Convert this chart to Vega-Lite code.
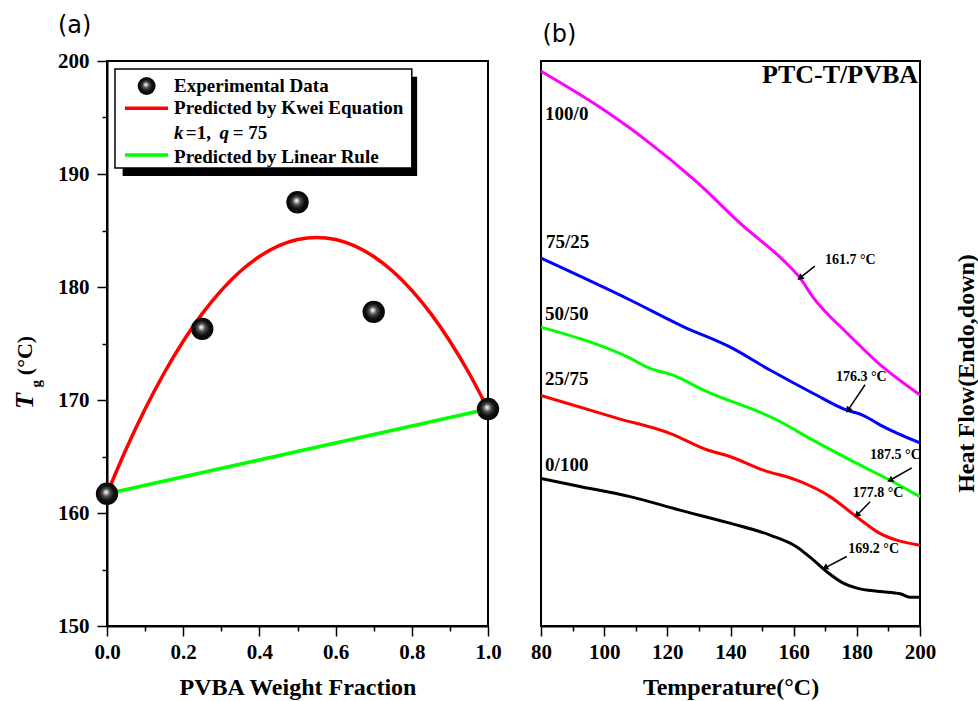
{
  "$schema": "https://vega.github.io/schema/vega-lite/v6.json",
  "background": "white",
  "padding": {"left": 11, "top": 13, "right": 0, "bottom": 0},
  "config": {
    "font": "Liberation Serif",
    "view": {"stroke": "black", "strokeWidth": 2},
    "axis": {
      "grid": false,
      "labelFlush": false,
      "domainColor": "black",
      "domainWidth": 2,
      "tickColor": "black",
      "tickWidth": 1.5,
      "labelColor": "black",
      "labelFont": "Liberation Serif",
      "labelFontWeight": "bold",
      "labelFontSize": 21,
      "labelPadding": 5,
      "titleColor": "black",
      "titleFont": "Liberation Serif",
      "titleFontWeight": "bold",
      "titleFontSize": 24
    },
    "title": {"font": "DejaVu Sans", "fontSize": 24, "fontWeight": "normal", "color": "black", "anchor": "start", "frame": "group"}
  },
  "resolve": {"scale": {"x": "independent", "y": "independent", "color": "independent"}},
  "spacing": 26,
  "hconcat": [
    {
      "width": 381,
      "height": 565,
      "title": {"text": "(a)", "dx": -49, "offset": 12},
      "encoding": {
        "x": {
          "field": "x", "type": "quantitative",
          "scale": {"domain": [0, 1], "nice": false, "zero": false},
          "axis": {
            "title": "PVBA Weight Fraction",
            "values": [0, 0.1, 0.2, 0.3, 0.4, 0.5, 0.6, 0.7, 0.8, 0.9, 1.0],
            "format": ".1f",
            "labelExpr": "round(datum.value * 10) % 2 === 0 ? datum.label : ''",
            "tickSize": {"condition": {"test": "round(datum.value * 10) % 2 === 0", "value": 10}, "value": 5},
            "titlePadding": 13
          }
        },
        "y": {
          "field": "y", "type": "quantitative",
          "scale": {"domain": [150, 200], "nice": false, "zero": false},
          "axis": {
            "title": null,
            "values": [150, 155, 160, 165, 170, 175, 180, 185, 190, 195, 200],
            "labelExpr": "datum.value % 10 === 0 ? datum.label : ''",
            "labelPadding": 8,
            "tickSize": {"condition": {"test": "datum.value % 10 === 0", "value": 10}, "value": 5}
          }
        }
      },
      "layer": [
        {"data": {"name": "linearRule"}, "mark": {"type": "line", "color": "#00ff00", "strokeWidth": 3.5}},
        {"data": {"name": "kwei"}, "mark": {"type": "line", "color": "#ff0000", "strokeWidth": 3.5, "interpolate": "monotone"}},
        {
          "data": {"name": "experiment"},
          "mark": {
            "type": "point", "filled": true, "opacity": 1, "size": 500, "strokeWidth": 0,
            "fill": {"gradient": "radial", "x1": 0.45, "y1": 0.42, "r1": 0, "x2": 0.5, "y2": 0.5, "r2": 0.55,
              "stops": [{"offset": 0, "color": "#ffffff"}, {"offset": 0.12, "color": "#cfcfcf"}, {"offset": 0.3, "color": "#555555"}, {"offset": 0.6, "color": "#111111"}, {"offset": 1, "color": "#000000"}]}
          }
        },
        {"data": {"name": "legendShadow"}, "mark": {"type": "rect", "color": "black", "opacity": 1}, "encoding": {"x2": {"field": "x2"}, "y2": {"field": "y2"}}},
        {"data": {"name": "legendBox"}, "mark": {"type": "rect", "fill": "white", "stroke": "black", "strokeWidth": 1.5, "opacity": 1}, "encoding": {"x2": {"field": "x2"}, "y2": {"field": "y2"}}},
        {
          "data": {"name": "legendBall"},
          "mark": {
            "type": "point", "filled": true, "opacity": 1, "size": 320, "strokeWidth": 0,
            "fill": {"gradient": "radial", "x1": 0.45, "y1": 0.42, "r1": 0, "x2": 0.5, "y2": 0.5, "r2": 0.55,
              "stops": [{"offset": 0, "color": "#ffffff"}, {"offset": 0.12, "color": "#cfcfcf"}, {"offset": 0.3, "color": "#555555"}, {"offset": 0.6, "color": "#111111"}, {"offset": 1, "color": "#000000"}]}
          }
        },
        {
          "data": {"name": "legendKeys"},
          "mark": {"type": "rule", "strokeWidth": 3.5},
          "encoding": {
            "x2": {"field": "x2"},
            "color": {"field": "series", "type": "nominal", "scale": {"domain": ["Kwei", "Linear"], "range": ["#ff0000", "#00ff00"]}, "legend": null}
          }
        },
        {
          "data": {"name": "legendText"},
          "mark": {"type": "text", "align": "left", "baseline": "middle", "font": "Liberation Serif", "fontWeight": "bold", "fontSize": 19, "color": "black"},
          "encoding": {"text": {"field": "label"}}
        },
        {
          "data": {"name": "legendItalic"},
          "mark": {"type": "text", "align": "left", "baseline": "middle", "font": "Liberation Serif", "fontWeight": "bold", "fontStyle": "italic", "fontSize": 19, "color": "black"},
          "encoding": {"text": {"field": "label"}}
        },
        {
          "data": {"name": "titleT"},
          "mark": {"type": "text", "align": "left", "baseline": "alphabetic", "angle": 270, "font": "Liberation Serif", "fontWeight": "bold", "fontStyle": "italic", "fontSize": 26, "color": "black"},
          "encoding": {"text": {"field": "label"}}
        },
        {
          "data": {"name": "titleSub"},
          "mark": {"type": "text", "align": "left", "baseline": "alphabetic", "angle": 270, "font": "Liberation Serif", "fontWeight": "bold", "fontSize": 15, "color": "black"},
          "encoding": {"text": {"field": "label"}}
        },
        {
          "data": {"name": "titleUnit"},
          "mark": {"type": "text", "align": "left", "baseline": "alphabetic", "angle": 270, "font": "Liberation Serif", "fontWeight": "bold", "fontSize": 22, "color": "black"},
          "encoding": {"text": {"field": "label"}}
        }
      ]
    },
    {
      "width": 379,
      "height": 565,
      "title": {"text": "(b)", "dx": 1.5, "offset": 14},
      "encoding": {
        "x": {
          "field": "t", "type": "quantitative",
          "scale": {"domain": [80, 200], "nice": false, "zero": false},
          "axis": {
            "title": "Temperature(°C)",
            "values": [80, 90, 100, 110, 120, 130, 140, 150, 160, 170, 180, 190, 200],
            "labelExpr": "datum.value % 20 === 0 ? datum.label : ''",
            "tickSize": {"condition": {"test": "datum.value % 20 === 0", "value": 10}, "value": 5},
            "titlePadding": 13
          }
        },
        "y": {
          "field": "v", "type": "quantitative",
          "scale": {"domain": [0, 100], "nice": false, "zero": false},
          "axis": {
            "orient": "right",
            "title": "Heat Flow(Endo,down)",
            "labels": false, "ticks": false, "domain": false,
            "titleAngle": 270, "titleAlign": "center", "titleBaseline": "alphabetic",
            "titleX": 53, "titleY": 312
          }
        }
      },
      "layer": [
        {
          "data": {"name": "dsc"},
          "mark": {"type": "line", "strokeWidth": 3, "interpolate": "monotone"},
          "encoding": {
            "color": {"field": "blend", "type": "nominal",
              "scale": {"domain": ["100/0", "75/25", "50/50", "25/75", "0/100"], "range": ["#ff00ff", "#0000ff", "#00ff00", "#ff0000", "#000000"]},
              "legend": null}
          }
        },
        {
          "data": {"name": "arrows"},
          "mark": {"type": "rule", "color": "black", "strokeWidth": 1.5},
          "encoding": {"x2": {"field": "t2"}, "y2": {"field": "v2"}}
        },
        {
          "data": {"name": "arrows"},
          "mark": {"type": "point", "shape": "triangle-up", "filled": true, "color": "black", "opacity": 1, "size": 50},
          "encoding": {
            "x": {"field": "t2", "type": "quantitative"},
            "y": {"field": "v2", "type": "quantitative"},
            "angle": {"field": "dir", "type": "quantitative", "scale": null}
          }
        },
        {
          "data": {"name": "tgLabels"},
          "mark": {"type": "text", "align": "left", "baseline": "middle", "font": "Liberation Serif", "fontWeight": "bold", "fontSize": 14, "color": "black"},
          "encoding": {"text": {"field": "label"}}
        },
        {
          "data": {"name": "blendLabels"},
          "mark": {"type": "text", "align": "left", "baseline": "middle", "font": "Liberation Serif", "fontWeight": "bold", "fontSize": 19, "color": "black"},
          "encoding": {"text": {"field": "label"}}
        },
        {
          "data": {"name": "systemLabel"},
          "mark": {"type": "text", "align": "right", "baseline": "middle", "font": "Liberation Serif", "fontWeight": "bold", "fontSize": 26, "color": "black"},
          "encoding": {"text": {"field": "label"}}
        }
      ]
    }
  ],
  "datasets": {
    "experiment": [
      {"x": 0, "y": 161.7},
      {"x": 0.25, "y": 176.3},
      {"x": 0.5, "y": 187.5},
      {"x": 0.7, "y": 177.8},
      {"x": 1.0, "y": 169.2}
    ],
    "kwei": [
      {"x": 0.0, "y": 161.7},
      {"x": 0.05, "y": 165.64},
      {"x": 0.1, "y": 169.2},
      {"x": 0.15, "y": 172.39},
      {"x": 0.2, "y": 175.2},
      {"x": 0.25, "y": 177.64},
      {"x": 0.3, "y": 179.7},
      {"x": 0.35, "y": 181.39},
      {"x": 0.4, "y": 182.7},
      {"x": 0.45, "y": 183.64},
      {"x": 0.5, "y": 184.2},
      {"x": 0.55, "y": 184.39},
      {"x": 0.6, "y": 184.2},
      {"x": 0.65, "y": 183.64},
      {"x": 0.7, "y": 182.7},
      {"x": 0.75, "y": 181.39},
      {"x": 0.8, "y": 179.7},
      {"x": 0.85, "y": 177.64},
      {"x": 0.9, "y": 175.2},
      {"x": 0.95, "y": 172.39},
      {"x": 1.0, "y": 169.2}
    ],
    "linearRule": [
      {"x": 0, "y": 161.7},
      {"x": 1, "y": 169.2}
    ],
    "legendShadow": [{"x": 0.041, "x2": 0.814, "y": 198.61, "y2": 189.82}],
    "legendBox": [{"x": 0.021, "x2": 0.8, "y": 199.29, "y2": 190.53}],
    "legendBall": [{"x": 0.104, "y": 197.79}],
    "legendKeys": [
      {"series": "Kwei", "x": 0.047, "x2": 0.16, "y": 195.81},
      {"series": "Linear", "x": 0.047, "x2": 0.16, "y": 191.68}
    ],
    "legendText": [
      {"label": "Experimental Data", "x": 0.176, "y": 197.81},
      {"label": "Predicted by Kwei Equation", "x": 0.176, "y": 195.81},
      {"label": "=1,", "x": 0.207, "y": 193.6},
      {"label": "= 75", "x": 0.33, "y": 193.6},
      {"label": "Predicted by Linear Rule", "x": 0.176, "y": 191.53}
    ],
    "legendItalic": [
      {"label": "k", "x": 0.176, "y": 193.6},
      {"label": "q", "x": 0.295, "y": 193.6}
    ],
    "titleT": [{"label": "T", "x": -0.194, "y": 169.2}],
    "titleSub": [{"label": "g", "x": -0.173, "y": 171.1}],
    "titleUnit": [{"label": "(°C)", "x": -0.197, "y": 172.2}],
    "dsc": [
      {"blend": "100/0", "t": 80, "v": 98.2},
      {"blend": "100/0", "t": 97.6, "v": 92.2},
      {"blend": "100/0", "t": 112.3, "v": 86.4},
      {"blend": "100/0", "t": 129.3, "v": 78.6},
      {"blend": "100/0", "t": 144.0, "v": 70.8},
      {"blend": "100/0", "t": 156.6, "v": 64.8},
      {"blend": "100/0", "t": 162.0, "v": 61.6},
      {"blend": "100/0", "t": 166.1, "v": 58.2},
      {"blend": "100/0", "t": 176.8, "v": 51.9},
      {"blend": "100/0", "t": 188.3, "v": 45.8},
      {"blend": "100/0", "t": 200, "v": 40.9},
      {"blend": "75/25", "t": 80, "v": 65.1},
      {"blend": "75/25", "t": 108.2, "v": 57.7},
      {"blend": "75/25", "t": 125.0, "v": 53.0},
      {"blend": "75/25", "t": 139.8, "v": 49.4},
      {"blend": "75/25", "t": 152.5, "v": 45.3},
      {"blend": "75/25", "t": 166.1, "v": 41.2},
      {"blend": "75/25", "t": 176.8, "v": 38.2},
      {"blend": "75/25", "t": 182.0, "v": 37.3},
      {"blend": "75/25", "t": 187.3, "v": 35.6},
      {"blend": "75/25", "t": 200, "v": 32.4},
      {"blend": "50/50", "t": 80, "v": 52.9},
      {"blend": "50/50", "t": 108.2, "v": 47.4},
      {"blend": "50/50", "t": 114.5, "v": 45.6},
      {"blend": "50/50", "t": 121.8, "v": 44.4},
      {"blend": "50/50", "t": 131.3, "v": 41.8},
      {"blend": "50/50", "t": 154.6, "v": 36.5},
      {"blend": "50/50", "t": 166.1, "v": 32.9},
      {"blend": "50/50", "t": 182.0, "v": 28.2},
      {"blend": "50/50", "t": 190.5, "v": 25.8},
      {"blend": "50/50", "t": 200, "v": 22.9},
      {"blend": "25/75", "t": 80, "v": 40.8},
      {"blend": "25/75", "t": 104.0, "v": 36.8},
      {"blend": "25/75", "t": 120.8, "v": 34.1},
      {"blend": "25/75", "t": 132.5, "v": 31.2},
      {"blend": "25/75", "t": 139.8, "v": 30.0},
      {"blend": "25/75", "t": 150.4, "v": 27.6},
      {"blend": "25/75", "t": 161.0, "v": 25.8},
      {"blend": "25/75", "t": 171.5, "v": 22.9},
      {"blend": "25/75", "t": 180.0, "v": 19.3},
      {"blend": "25/75", "t": 187.3, "v": 16.4},
      {"blend": "25/75", "t": 192.6, "v": 15.2},
      {"blend": "25/75", "t": 200, "v": 14.3},
      {"blend": "0/100", "t": 80, "v": 26.1},
      {"blend": "0/100", "t": 92.3, "v": 24.7},
      {"blend": "0/100", "t": 108.2, "v": 22.9},
      {"blend": "0/100", "t": 124.0, "v": 20.5},
      {"blend": "0/100", "t": 139.8, "v": 18.2},
      {"blend": "0/100", "t": 152.5, "v": 16.1},
      {"blend": "0/100", "t": 161.0, "v": 14.0},
      {"blend": "0/100", "t": 166.2, "v": 11.7},
      {"blend": "0/100", "t": 170.5, "v": 9.6},
      {"blend": "0/100", "t": 175.7, "v": 7.6},
      {"blend": "0/100", "t": 180.0, "v": 6.7},
      {"blend": "0/100", "t": 187.3, "v": 6.1},
      {"blend": "0/100", "t": 193.7, "v": 5.7},
      {"blend": "0/100", "t": 196.8, "v": 5.1},
      {"blend": "0/100", "t": 200, "v": 5.1}
    ],
    "arrows": [
      {"t": 166.7, "v": 63.7, "t2": 162.0, "v2": 61.6, "dir": 231},
      {"t": 182.6, "v": 42.7, "t2": 177.2, "v2": 38.2, "dir": 214},
      {"t": 197.4, "v": 28.0, "t2": 190.5, "v2": 25.8, "dir": 241},
      {"t": 184.2, "v": 22.0, "t2": 180.0, "v2": 19.6, "dir": 225},
      {"t": 176.8, "v": 12.3, "t2": 169.9, "v2": 10.3, "dir": 242}
    ],
    "tgLabels": [
      {"label": "161.7 °C", "t": 169.9, "v": 64.8},
      {"label": "176.3 °C", "t": 173.4, "v": 44.1},
      {"label": "187.5 °C", "t": 184.2, "v": 30.3},
      {"label": "177.8 °C", "t": 178.7, "v": 23.5},
      {"label": "169.2 °C", "t": 177.3, "v": 13.6}
    ],
    "blendLabels": [
      {"label": "100/0", "t": 81.3, "v": 90.6},
      {"label": "75/25", "t": 81.6, "v": 68.0},
      {"label": "50/50", "t": 81.3, "v": 55.3},
      {"label": "25/75", "t": 81.3, "v": 43.8},
      {"label": "0/100", "t": 81.3, "v": 28.5}
    ],
    "systemLabel": [{"label": "PTC-T/PVBA", "t": 199.4, "v": 97.5}]
  }
}
